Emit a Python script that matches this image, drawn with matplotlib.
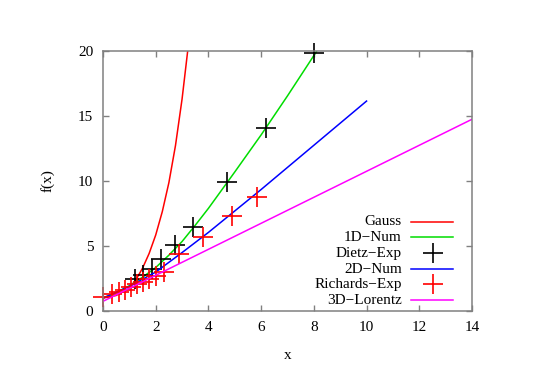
import matplotlib
matplotlib.use("Agg")
import matplotlib.pyplot as plt
from matplotlib.lines import Line2D

plt.rcParams['font.family'] = ['Liberation Serif', 'DejaVu Serif']

# curves
gauss_x = [0.0, 0.5, 1.0, 1.25, 1.5, 1.75, 2.0, 2.25, 2.5, 2.75, 3.0, 3.21]
gauss_y = [1.0, 1.2, 1.75, 2.41, 3.3, 4.43, 5.85, 7.65, 9.88, 12.73, 16.31, 19.95]

num1d_x = [0, 0.5, 1, 1.5, 2, 2.5, 3, 3.5, 4, 4.5, 5, 6, 7, 8, 8.1]
num1d_y = [1.0, 1.42, 1.95, 2.6, 3.35, 4.3, 5.35, 6.6, 7.9, 9.3, 10.7, 13.55, 16.55, 19.65, 19.96]

num2d_x = [0, 1, 2, 3, 4, 5, 6, 7, 8, 9, 10]
num2d_y = [1.0, 1.9, 3.0, 4.5, 6.05, 7.7, 9.35, 11.05, 12.75, 14.45, 16.15]

lor3d_x = [0, 2, 4, 6, 8, 10, 12, 14]
lor3d_y = [0.75, 2.75, 4.75, 6.75, 8.75, 10.75, 12.75, 14.75]

# measured points
dietz_x = [1.2, 1.5, 1.85, 2.2, 2.73, 3.43, 4.7, 6.2, 8.0]
dietz_y = [2.5, 2.8, 3.2, 4.0, 5.1, 6.45, 9.9, 14.1, 19.85]

rich_x = [0.0, 0.35, 0.6, 0.85, 1.05, 1.3, 1.5, 1.75, 2.0, 2.3, 2.9, 3.8, 4.9, 5.85]
rich_y = [1.1, 1.3, 1.45, 1.65, 1.85, 2.05, 2.25, 2.5, 2.7, 3.0, 4.4, 5.7, 7.35, 8.75]

labels = ['Gauss', '1D\u2212Num', 'Dietz\u2212Exp', '2D\u2212Num',
          'Richards\u2212Exp', '3D\u2212Lorentz']

fig = plt.figure(figsize=(5.45, 3.85), dpi=100)
ax = fig.add_axes([0.189, 0.192, 0.677, 0.6755])

lw = 1.1
ms = 14.4
styles = [
    dict(color='#ff0000', lw=lw),
    dict(color='#00dd00', lw=lw),
    dict(color='black', ls='none', marker='+', ms=ms, mew=1.2),
    dict(color='#0000ff', lw=lw),
    dict(color='#ff0000', ls='none', marker='+', ms=ms, mew=1.2),
    dict(color='#ff00ff', lw=lw),
]
series = [(gauss_x, gauss_y), (num1d_x, num1d_y), (dietz_x, dietz_y),
          (num2d_x, num2d_y), (rich_x, rich_y), (lor3d_x, lor3d_y)]

for (xs, ys), st in zip(series, styles):
    clip = st.get('marker') is None
    ax.plot(xs, ys, clip_on=clip, **st)

ax.set_xlim(0, 14)
ax.set_ylim(0, 20)
ax.set_xticks(range(0, 15, 2))
ax.set_yticks(range(0, 21, 5))
ax.set_xlabel('x', fontsize=11, labelpad=11)
ax.set_ylabel('f(x)', fontsize=11, labelpad=17)

for s in ax.spines.values():
    s.set_color('#808080')
    s.set_linewidth(1.1)
ax.tick_params(direction='in', length=4, width=1.0, color='#808080',
               top=True, right=True, labelsize=11, pad=7)

# key, gnuplot style: text right-aligned, sample on the right
row_y = [0.3435, 0.2835, 0.2219, 0.1615, 0.1027, 0.0423]
for lab, st, yy in zip(labels, styles, row_y):
    ax.text(0.8095, yy, lab, transform=ax.transAxes, ha='right', va='center',
            fontsize=11)
    if st.get('marker') is None:
        ax.add_line(Line2D([0.8358, 0.9485], [yy, yy], transform=ax.transAxes,
                           clip_on=False, **st))
    else:
        ax.add_line(Line2D([0.8935], [yy], transform=ax.transAxes,
                           clip_on=False, **st))

fig.savefig('out.png', dpi=100)
